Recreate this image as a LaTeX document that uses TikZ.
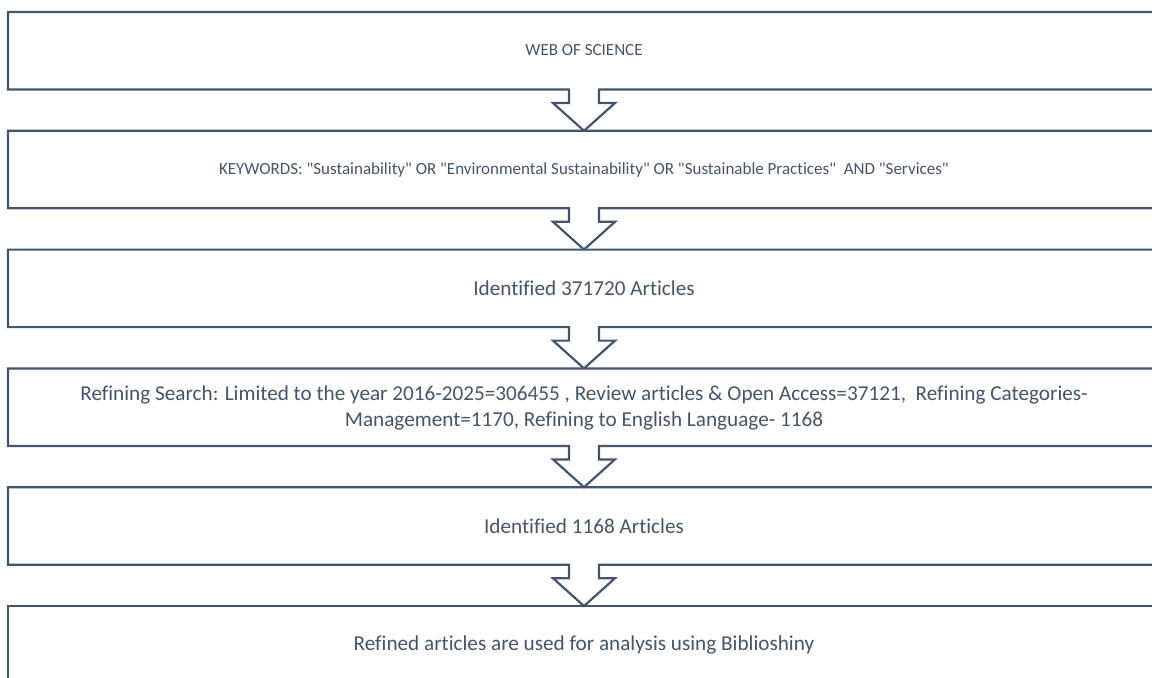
\documentclass[tikz,border=0pt]{standalone}
\usepackage{fontspec}
\setmainfont{Carlito}[Ligatures={TeXOff,NoCommon}]
\definecolor{slate}{HTML}{44546A}
\tikzset{
    flowline/.style={draw=slate, line width=1.1pt, line join=miter},
    flowtext/.style={text=slate, font=\fontsize{10.6}{13}\selectfont, align=center, inner sep=0pt},
    smalltext/.style={flowtext, font=\fontsize{8.5}{10}\selectfont}
}

\begin{document}
\begin{tikzpicture}[x=0.5pt, y=-0.5pt]
    \clip (0,0) rectangle (1152,677);

    % Boxes with down arrows
    \foreach \i in {0,1,2,3,4} {
        \pgfmathsetmacro{\top}{12+118.8*\i}
        \pgfmathsetmacro{\bot}{\top+77.5}
        \pgfmathsetmacro{\neck}{\bot+13.5}
        \pgfmathsetmacro{\tip}{\top+118.8}
        \draw[flowline] (1170,\top) -- (8,\top) -- (8,\bot) -- (569,\bot) -- (569,\neck)
            -- (553,\neck) -- (584,\tip) -- (615,\neck) -- (599,\neck) -- (599,\bot) -- (1170,\bot);
    }
    \draw[flowline] (1170,606) -- (8,606) -- (8,690);

    % Texts
    \node[smalltext] (web) at (584,50.5) {WEB OF SCIENCE};
    \node[smalltext] (kw) at (584,169.5) {KEYWORDS: "Sustainability" OR "Environmental Sustainability" OR "Sustainable Practices"\ \ AND "Services"};
    \node[flowtext] (id1) at (584,288.5) {Identified 371720 Articles};
    \node[flowtext] (refine) at (584,408) {Refining Search: Limited to the year 2016-2025=306455 , Review articles \& Open Access=37121,\ \ Refining Categories-\\Management=1170, Refining to English Language- 1168};
    \node[flowtext] (id2) at (584,526) {Identified 1168 Articles};
    \node[flowtext] (final) at (584,645) {Refined articles are used for analysis using Biblioshiny};
\end{tikzpicture}
\end{document}
